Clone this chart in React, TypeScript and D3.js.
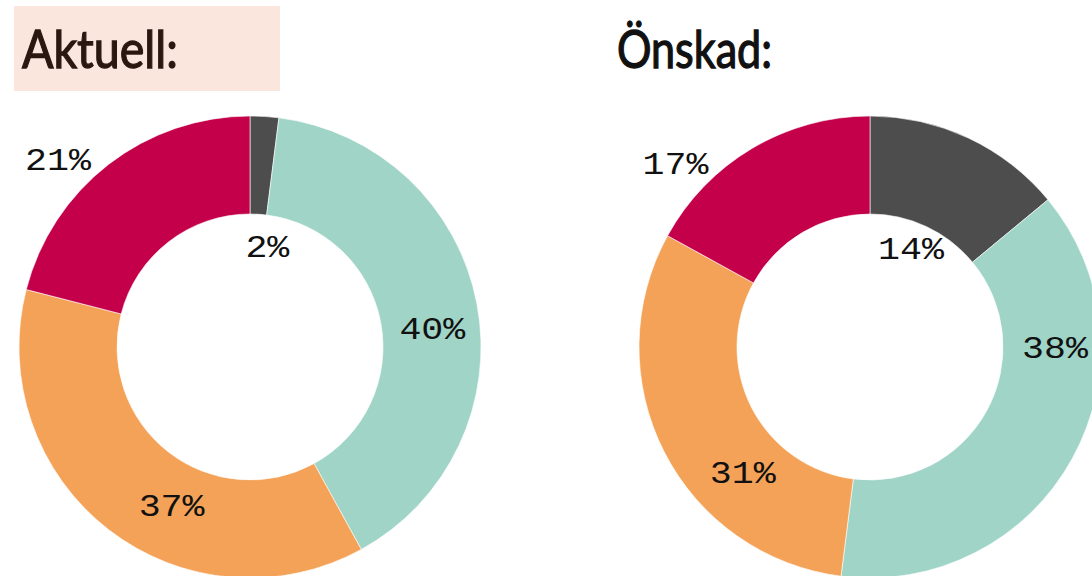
import React, { useEffect, useRef } from "react";
import * as d3 from "d3";

// slices go clockwise from 12 o'clock
const categories = ["Övrigt", "Kategori B", "Kategori C", "Kategori D"];
const aktuellValues = [2, 40, 37, 21];
const onskadValues = [14, 38, 31, 17];
const colors = ["#4d4d4d", "#9fd4c7", "#f4a257", "#c4004a"];
const titles = ["Aktuell:", "Önskad:"];

// label placement in polar terms (degrees from top, distance from centre)
const aktuellLabelPos = [
  [10, 100],
  [85, 183],
  [206, 179],
  [314, 267],
];
const onskadLabelPos = [
  [23, 105],
  [91, 185],
  [225, 180],
  [313, 266],
];

export default function App() {
  const ref = useRef<SVGSVGElement>(null);

  useEffect(() => {
    const svg = d3.select(ref.current);
    svg.selectAll("*").remove();

    const outer = 231;
    const inner = 133;

    const pie = d3
      .pie<number>()
      .sort(null)
      .value((d) => d);
    const arc = d3.arc<d3.PieArcDatum<number>>().innerRadius(inner).outerRadius(outer);

    const charts = [
      { values: aktuellValues, labels: aktuellLabelPos, cx: 250, title: titles[0] },
      { values: onskadValues, labels: onskadLabelPos, cx: 870, title: titles[1] },
    ];

    // highlight box behind the first title
    svg
      .append("rect")
      .attr("x", 14)
      .attr("y", 6)
      .attr("width", 266)
      .attr("height", 85)
      .attr("fill", "#fbe6dd");

    charts.forEach((c, i) => {
      const g = svg.append("g").attr("transform", `translate(${c.cx},347)`);

      g.selectAll("path")
        .data(pie(c.values))
        .join("path")
        .attr("d", arc)
        .attr("fill", (_d, j) => colors[j])
        .attr("stroke", "#ffffff")
        .attr("stroke-width", 0.6);

      // labels: slightly widened mono text
      g.selectAll("text")
        .data(c.values)
        .join("text")
        .attr("transform", (_d, j) => {
          const a = (c.labels[j][0] * Math.PI) / 180;
          const r = c.labels[j][1];
          return `translate(${Math.sin(a) * r},${-Math.cos(a) * r}) scale(1.18,1)`;
        })
        .attr("text-anchor", "middle")
        .attr("dominant-baseline", "central")
        .attr("font-family", "'Liberation Mono', monospace")
        .attr("font-size", 31)
        .attr("fill", "#111")
        .text((d) => `${d}%`);

      const col = i === 0 ? "#2a1810" : "#111111";
      svg
        .append("text")
        .attr("x", i === 0 ? 22 : 617)
        .attr("y", 68)
        .attr("font-family", "Lato, sans-serif")
        .attr("font-size", 52)
        .attr("textLength", i === 0 ? 156 : 155)
        .attr("lengthAdjust", "spacingAndGlyphs")
        .attr("fill", col)
        .attr("stroke", col)
        .attr("stroke-width", 1.3)
        .text(c.title);
    });
  }, []);

  return (
    <svg
      ref={ref}
      width={1092}
      height={576}
      style={{ position: "absolute", left: 0, top: 0 }}
    />
  );
}
